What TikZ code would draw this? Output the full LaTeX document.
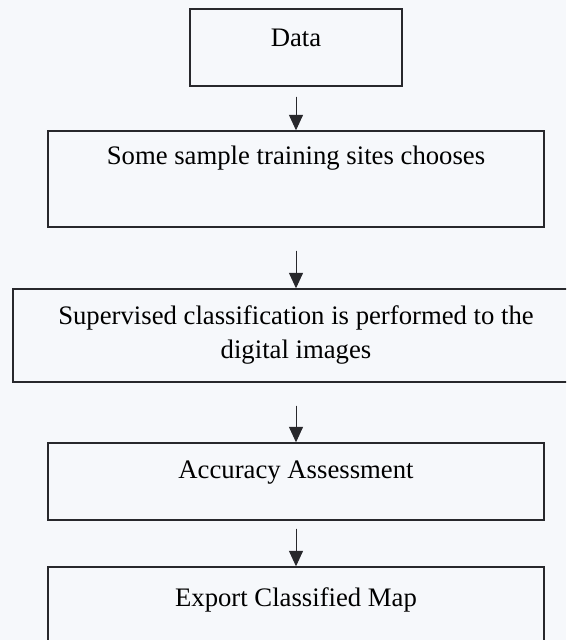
\documentclass[tikz,border=0pt]{standalone}
\usepackage{fontspec}
\setmainfont{Liberation Serif}
\usepackage{tikz}
\usetikzlibrary{arrows.meta}
\definecolor{paper}{RGB}{246,248,251}
\definecolor{ink}{RGB}{40,40,44}
\tikzstyle{stage}=[draw=ink, line width=1pt, rectangle, inner sep=0pt, align=center, font=\fontsize{19}{24.5}\selectfont]
\tikzstyle{flow}=[draw=ink, line width=0.7pt, -{Triangle[width=10pt,length=11pt]}, fill=ink]

\begin{document}
\begin{tikzpicture}
\fill[paper] ( 0 , 0 ) rectangle ( 14.15 , 16 );
\useasboundingbox ( 0 , 0 ) rectangle ( 14.15 , 16 );
\clip ( 0 , 0 ) rectangle ( 14.15 , 16 );
\node[stage, minimum width=5.3cm, text height=0.945cm, text depth=0.98cm] (data) at ( 7.4 , 14.8125 ){Data};
\node[stage, minimum width=12.4cm, text height=0.84cm, text depth=1.56cm] (sites) at ( 7.4 , 11.525 ){Some sample training sites chooses};
\node[stage, minimum width=14.15cm, text height=1.75cm, text depth=0.575cm] (supervised) at ( 7.4 , 7.6125 ){Supervised classification is performed to the\\digital images};
\node[stage, minimum width=12.4cm, text height=0.895cm, text depth=1.03cm] (accuracy) at ( 7.4 , 3.9625 ){Accuracy Assessment};
\node[stage, minimum width=12.4cm, text height=0.995cm, text depth=0.93cm] (export) at ( 7.4 , 0.8625 ){Export Classified Map};
\draw[flow, shorten <=0.25cm] (data) -- (sites);
\draw[flow, shorten <=0.575cm] (sites) -- (supervised);
\draw[flow, shorten <=0.575cm] (supervised) -- (accuracy);
\draw[flow, shorten <=0.2cm] (accuracy) -- (export);
\end{tikzpicture}
\end{document}
